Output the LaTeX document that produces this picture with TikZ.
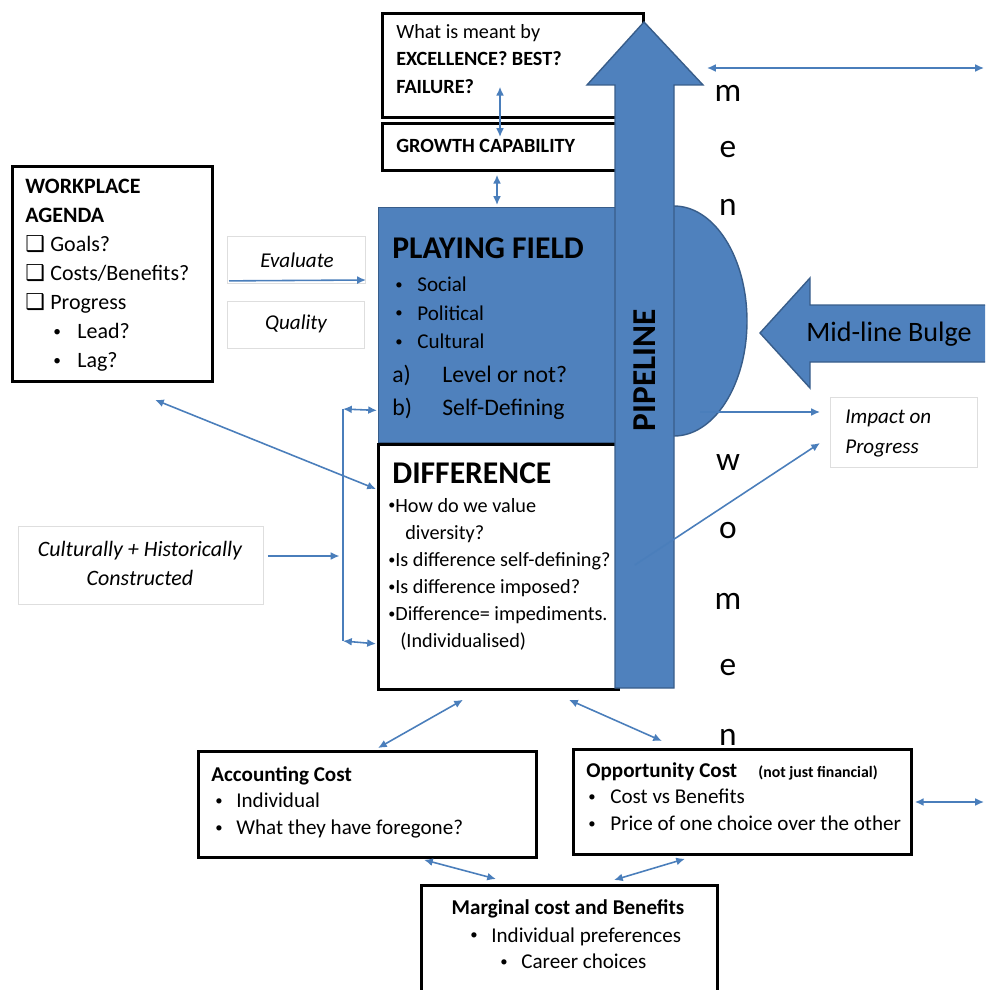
\documentclass[tikz,border=0pt]{standalone}
\usepackage{fontspec}
\setmainfont{Carlito}
\newfontfamily\symfont{DejaVu Sans}
\usetikzlibrary{arrows.meta}

\definecolor{fieldblue}{RGB}{79,129,189}
\definecolor{fieldedge}{RGB}{56,93,138}
\definecolor{linkblue}{RGB}{74,126,187}
\definecolor{softgray}{RGB}{222,222,222}

\newlength\pxl
\setlength\pxl{0.02cm}
\newcommand\smallbul{\raisebox{0.12em}{\scalebox{0.7}{\textbullet}}}
\newcommand\bulitem[2][21]{\makebox[#1\pxl][l]{\smallbul}#2}
\newcommand\chkitem[1]{\makebox[25\pxl][l]{\symfont ❑}#1}

\tikzset{
  boxframe/.style={draw=black, line width=1.6pt, fill=white, anchor=north west},
  softframe/.style={draw=softgray, line width=0.5pt, fill=white, anchor=north west},
  boxsize/.style 2 args={minimum width=#1*0.02cm, minimum height=#2*0.02cm},
  link/.style={draw=linkblue, line width=0.9pt, {Latex[length=5pt,width=4.5pt]}-{Latex[length=5pt,width=4.5pt]}},
  onelink/.style={draw=linkblue, line width=0.9pt, -{Latex[length=5pt,width=4.5pt]}},
  letter/.style={font=\fontsize{19}{20}\selectfont},
  boxtext/.style={anchor=north west, align=left}
}

\begin{document}
\begin{tikzpicture}[x=0.02cm, y=-0.02cm, every node/.style={inner sep=0pt, font=\fontsize{12}{15}\selectfont}]
\useasboundingbox (0,0) rectangle (985,990);
\clip (0,0) rectangle (985,990);

% top boxes
\node[boxframe, boxsize={261}{104}] (qbox) at (381,12) {};
\node[boxframe, boxsize={236}{47}] (growth) at (381,122) {};

% side boxes
\node[boxframe, boxsize={200}{215}] (agenda) at (11,165) {};
\node[softframe, boxsize={138}{47}] (evaluate) at (227,236) {};
\node[softframe, boxsize={137}{47}] (quality) at (227,301) {};
\node[softframe, boxsize={245}{78}] (cultural) at (18,526) {};
\node[softframe, boxsize={147}{70}] (impact) at (830,397) {};

% bulge, playing field, difference
\filldraw[fill=fieldblue, draw=fieldedge, line width=0.8pt] (674,321) ellipse [x radius=73, y radius=115];
\node[fill=fieldblue, draw=fieldedge, line width=0.8pt, anchor=north west, boxsize={239}{235}] (field) at (378,207) {};
\node[boxframe, boxsize={240}{245}] (diff) at (377,443) {};

% pipeline
\filldraw[fill=fieldblue, draw=fieldedge, line width=0.8pt]
  (615,688) -- (615,85) -- (587,85) -- (644,22) -- (703,85) -- (674,85) -- (674,688) -- cycle;
\coordinate (pipehead) at (703,85);
\node[font=\fontsize{19}{20}\selectfont\bfseries, rotate=90] (pipelbl) at (645,370) {PIPELINE};

% mid-line bulge arrow
\filldraw[fill=fieldblue, draw=fieldedge, line width=0.8pt]
  (760,333) -- (810,278) -- (810,305) -- (995,305) -- (995,362) -- (810,362) -- (810,388) -- cycle;
\node[anchor=base, font=\fontsize{16}{18}\selectfont] (midlbl) at (889,341) {Mid-line Bulge};

% bottom boxes
\node[boxframe, boxsize={338}{106}] (acct) at (197,750) {};
\node[boxframe, boxsize={338}{105}] (opp) at (572,748) {};
\node[boxframe, boxsize={296}{120}] (marginal) at (420,884) {};

% texts
\node[boxtext, font=\fontsize{11.5}{15.6}\selectfont] (qtext) at (396,24)
  {What is meant by\\\textbf{EXCELLENCE? BEST?}\\\textbf{FAILURE?}};
\node[anchor=west, font=\fontsize{11.5}{14}\selectfont\bfseries] (growthtxt) at (396,146) {GROWTH CAPABILITY};
\node[boxtext, font=\fontsize{12.5}{16.5}\selectfont] (agendatxt) at (25,179)
  {\textbf{WORKPLACE}\\\textbf{AGENDA}\\\chkitem{Goals?}\\\chkitem{Costs/Benefits?}\\\chkitem{Progress}\\
   \hspace*{28\pxl}\bulitem[24]{Lead?}\\\hspace*{28\pxl}\bulitem[24]{Lag?}};
\node[font=\fontsize{12}{15}\selectfont\itshape] (evaltxt) at (297,260) {Evaluate};
\node[font=\fontsize{12}{15}\selectfont\itshape] (qualtxt) at (296,324) {Quality};
\node[anchor=north, align=center, font=\fontsize{12.5}{16.5}\selectfont\itshape] (culttxt) at (140,541)
  {Culturally + Historically\\Constructed};
\node[boxtext, font=\fontsize{12}{17}\selectfont\itshape] (impacttxt) at (845,410) {Impact on\\Progress};

\node[anchor=west, font=\fontsize{18}{20}\selectfont\bfseries] (fieldtitle) at (392,248) {PLAYING FIELD};
\node[boxtext, font=\fontsize{12}{16.2}\selectfont] (fieldlist) at (395,277)
  {\bulitem[22]{Social}\\\bulitem[22]{Political}\\\bulitem[22]{Cultural}};
\node[boxtext, font=\fontsize{13.5}{18.8}\selectfont] (fieldqs) at (392,365)
  {\makebox[50\pxl][l]{a)}Level or not?\\\makebox[50\pxl][l]{b)}Self-Defining};

\node[anchor=west, font=\fontsize{18}{20}\selectfont\bfseries] (difftitle) at (392,473) {DIFFERENCE};
\node[boxtext, font=\fontsize{11.5}{15.4}\selectfont] (difflist) at (388,498)
  {\smallbul How do we value\\\hspace*{17\pxl}diversity?\\\smallbul Is difference self-defining?\\
   \smallbul Is difference imposed?\\\smallbul Difference= impediments.\\\hspace*{12\pxl}(Individualised)};

\node[boxtext, font=\fontsize{12}{15.2}\selectfont] (accttxt) at (211,766)
  {\textbf{Accounting Cost}\\\hspace*{4\pxl}\bulitem{Individual}\\\hspace*{4\pxl}\bulitem{What they have foregone?}};
\node[boxtext, font=\fontsize{12}{15.2}\selectfont] (opptxt) at (586,762)
  {\makebox[172\pxl][l]{\textbf{Opportunity Cost}}{\fontsize{9}{11}\selectfont\bfseries(not just financial)}\\
   \hspace*{2\pxl}\bulitem[22]{Cost vs Benefits}\\\hspace*{2\pxl}\bulitem[22]{Price of one choice over the other}};
\node[anchor=north, font=\fontsize{12}{15}\selectfont\bfseries] (margtitle) at (568,899) {Marginal cost and Benefits};
\node[boxtext, font=\fontsize{12}{15.2}\selectfont] (margtxt) at (470,927)
  {\bulitem{Individual preferences}\\\hspace*{30\pxl}\bulitem{Career choices}};

% men / women
\foreach \ch/\yy [count=\i] in {m/93,e/150,n/207}
  \node[letter] (men\i) at (728,\yy) {\ch};
\foreach \ch/\yy [count=\i] in {w/463,o/531,m/601,e/668,n/737}
  \node[letter] (women\i) at (728,\yy) {\ch};

% connectors
\coordinate (topend) at (984,68);
\coordinate (oppend) at (984,802);
\coordinate (bulgept) at (700,412);
\coordinate (brtop) at (343,409);
\coordinate (brbot) at (343,641);

\draw[link] ([shift={(119,-32)}]qbox.south west) -- ([shift={(119,15)}]growth.north west);
\draw[link] ([shift={(116,3)}]growth.south west) -- ([shift={(119,-2)}]field.north west);
\draw[link] ([shift={(4,-17)}]pipehead) -- (topend);
\draw[onelink] ([shift={(2,-3)}]evaluate.south west) -- ([shift={(-12,73)}]field.north west);
\draw[link] ([shift={(144,17)}]agenda.south west) -- ([shift={(-1,46)}]diff.north west);
\draw[draw=linkblue, line width=0.9pt] (brtop) -- (brbot);
\draw[link] (brtop) -- ([shift={(-1,-33)}]field.south west);
\draw[link] (brbot) -- ([shift={(-1,-47)}]diff.south west);
\draw[onelink] ([shift={(4,30)}]cultural.north east) -- ([xshift=-2]brtop |- 0,556);
\draw[onelink] (bulgept) -- ([shift={(-10,15)}]impact.north west);
\draw[onelink] ([shift={(15,122)}]diff.north east) -- ([shift={(-10,46)}]impact.north west);
\draw[link] ([shift={(86,9)}]diff.south west) -- ([shift={(181,-2)}]acct.north west);
\draw[link] ([shift={(192,9)}]diff.south west) -- ([shift={(90,-7)}]opp.north west);
\draw[link] ([shift={(227,1)}]acct.south west) -- ([shift={(76,-5)}]marginal.north west);
\draw[link] ([shift={(113,3)}]opp.south west) -- ([shift={(194,-4)}]marginal.north west);
\draw[link] ([shift={(2,54)}]opp.north east) -- (oppend);
\end{tikzpicture}
\end{document}
